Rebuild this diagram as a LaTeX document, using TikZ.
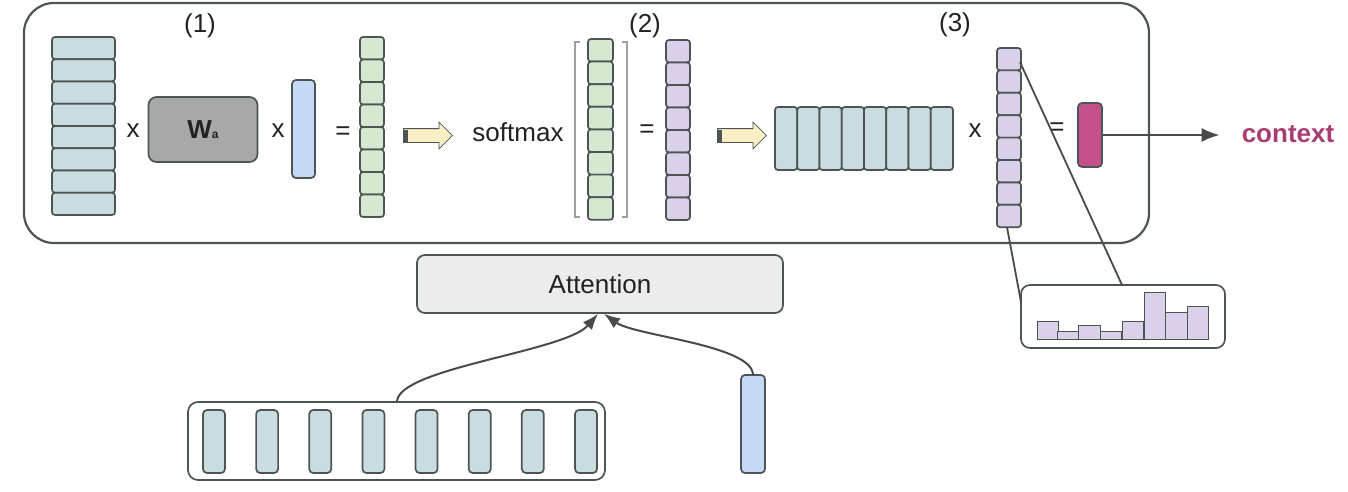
\documentclass[tikz,border=0pt]{standalone}
\usepackage{fontspec}
\setmainfont{Liberation Sans}
\usetikzlibrary{shapes.arrows,arrows.meta}
\definecolor{cEdge}{HTML}{4C5454}
\definecolor{cLine}{HTML}{4A4A4A}
\definecolor{cText}{HTML}{222222}
\definecolor{cTeal}{HTML}{C9DCDF}
\definecolor{cBlue}{HTML}{C6D9F4}
\definecolor{cGreen}{HTML}{D6E8D2}
\definecolor{cPurple}{HTML}{DAD0EA}
\definecolor{cMag}{HTML}{C4528A}
\definecolor{cCtx}{HTML}{A93C70}
\definecolor{cWa}{HTML}{A8A8A8}
\definecolor{cAtt}{HTML}{ECECEC}
\definecolor{cArr}{HTML}{FCEFC6}
\definecolor{cBrk}{HTML}{A0A0A0}
\begin{document}
\begin{tikzpicture}[x=1pt,y=-1pt,
  cell/.style={draw=cEdge, line width=1.7pt, rounded corners=3pt, inner sep=0pt, outer sep=0pt},
  lbl/.style={font=\fontsize{26}{30}\selectfont, text=cText, inner sep=0pt},
  opr/.style={font=\fontsize{26}{30}\selectfont, text=cText, inner sep=0pt},
  conn/.style={draw=cLine, line width=2pt, -{Latex[length=16pt,width=12pt]}},
  plain/.style={draw=cLine, line width=1.8pt},
  fat/.style={single arrow, draw=cEdge, line width=0.8pt, fill=cArr, inner sep=6.5pt,
    single arrow head extend=6.5pt, single arrow head indent=0pt, minimum height=49pt},
  frame/.style={draw=cEdge, line width=2.2pt}
]
\useasboundingbox (0,0) rectangle (1348,492);

% big frame
\node[frame, rounded corners=30pt, minimum width=1125pt, minimum height=240pt, inner sep=0pt] (big) at (586.5,123) {};

% labels (1) (2) (3)
\node[lbl] (n1) at (200,26) {(1)};
\node[lbl] (n2) at (645,26) {(2)};
\node[lbl] (n3) at (955,25) {(3)};

% left matrix
\foreach \i in {1,...,8}
  \node[cell, fill=cTeal, minimum width=63pt, minimum height=22.25pt] (A\i) at (83.5,{37+22.25*(\i-0.5)}) {};
\node[opr] (x1) at (133,131) {x};
\node[draw=cEdge, line width=1.7pt, fill=cWa, rounded corners=8pt, minimum width=109pt, minimum height=65pt, inner sep=0pt,
  font=\fontsize{26}{30}\selectfont\bfseries, text=cText] (Wa) at (203,129.5) {W\raisebox{-0.5pt}{\fontsize{12}{12}\selectfont a}};
\node[opr] (x2) at (278,131) {x};
\node[cell, fill=cBlue, minimum width=23pt, minimum height=98pt, rounded corners=4pt] (hq) at (303.5,129) {};
\node[opr] (eq1) at (343,133) {=};
\foreach \i in {1,...,8}
  \node[cell, fill=cGreen, minimum width=24pt, minimum height=22.5pt] (G\i) at (372,{37+22.5*(\i-0.5)}) {};

% fat arrow 1
\node[fat, anchor=west] (ar1) at (403,135.5) {};
\fill[cEdge] (403,129.5) rectangle (408,141.5);

% softmax
\node[lbl] (sm) at (518,132) {softmax};
\draw[cBrk, line width=1.3pt] (580,42) -- (575,42) -- (575,217) -- (580,217);
\draw[cBrk, line width=1.3pt] (622,42) -- (627,42) -- (627,217) -- (622,217);
\foreach \i in {1,...,8}
  \node[cell, fill=cGreen, minimum width=25pt, minimum height=22.6pt] (H\i) at (600.5,{39+22.6*(\i-0.5)}) {};
\node[opr] (eq2) at (647,131) {=};
\foreach \i in {1,...,8}
  \node[cell, fill=cPurple, minimum width=24pt, minimum height=22.5pt] (P\i) at (678,{40+22.5*(\i-0.5)}) {};

% fat arrow 2
\node[fat, anchor=west] (ar2) at (717,135.5) {};
\fill[cEdge] (717,129.5) rectangle (722,141.5);

% horizontal matrix
\foreach \i in {1,...,8}
  \node[cell, fill=cTeal, minimum width=22.25pt, minimum height=63pt] (C\i) at ({775+22.25*(\i-0.5)},138.5) {};
\node[opr] (x3) at (975,131) {x};
\foreach \i in {1,...,8}
  \node[cell, fill=cPurple, minimum width=24pt, minimum height=22.4pt] (V\i) at (1009,{48+22.4*(\i-0.5)}) {};
\node[opr] (eq3) at (1057,129) {=};
\node[cell, fill=cMag, minimum width=24pt, minimum height=64pt, rounded corners=4pt] (ctx) at (1090,135) {};
\node[font=\fontsize{26}{30}\selectfont\bfseries, text=cCtx, inner sep=0pt] (ctxl) at (1288,134) {context};
\draw[conn, -{Latex[length=18pt,width=14pt]}] (ctx.east) -- ([xshift=-22pt]ctxl.west |- ctx.east);

% histogram
\node[draw=cEdge, line width=1.7pt, rounded corners=9pt, minimum width=204pt, minimum height=63pt, inner sep=0pt] (hist) at (1123,316.5) {};
\foreach \xc/\h [count=\k] in {1048/18,1068.5/8,1089.5/14,1111/8,1133/18,1155/47,1176.5/27,1198/33}
  \node[draw=cEdge, line width=1.4pt, fill=cPurple, anchor=south, minimum width=21.5pt, minimum height=\h pt, inner sep=0pt] (bar\k) at (\xc,340) {};
\coordinate (hl1) at (1122,285);
\coordinate (hl2) at (1021,302);
\draw[plain] ([xshift=-1pt,yshift=-3pt]V1.east) -- (hl1);
\draw[plain] ([xshift=-2pt]V8.south) -- (hl2);

% attention
\node[draw=cEdge, line width=1.7pt, fill=cAtt, rounded corners=8pt, minimum width=366pt, minimum height=58pt, inner sep=0pt,
  font=\fontsize{26}{30}\selectfont, text=cText] (att) at (600,284) {Attention};

% sequence box
\node[draw=cEdge, line width=1.7pt, rounded corners=10pt, minimum width=417pt, minimum height=78pt, inner sep=0pt] (seq) at (396.5,441) {};
\foreach \i in {1,...,8}
  \node[cell, fill=cTeal, minimum width=22pt, minimum height=63pt, rounded corners=4pt] (S\i) at ({214+53.14*(\i-1)},441.5) {};
\node[cell, fill=cBlue, minimum width=24pt, minimum height=98pt, rounded corners=4pt] (hs) at (753,424) {};

\coordinate (c1) at (397,402);
\draw[conn] (c1) .. controls (397,368) and (565,352) .. ([xshift=-2pt]att.south);
\draw[conn] (hs.north) .. controls (753,345) and (635,336) .. ([xshift=4pt]att.south);
\end{tikzpicture}
\end{document}
